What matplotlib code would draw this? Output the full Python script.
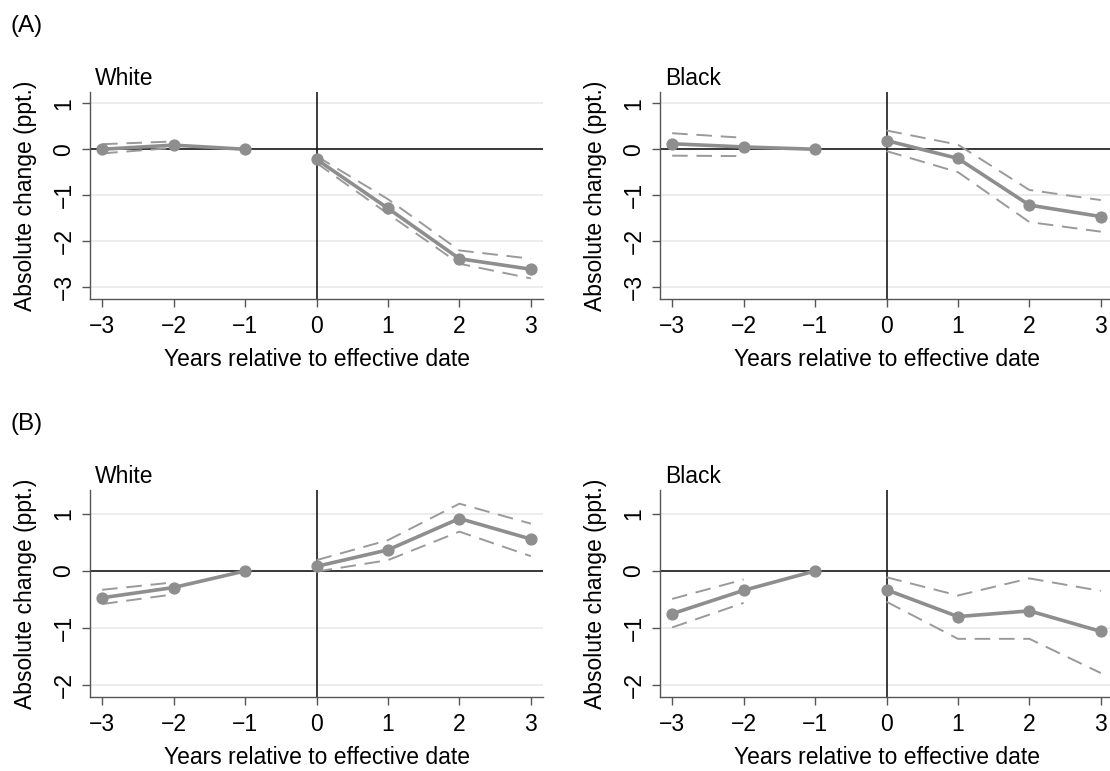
import numpy as np
import matplotlib

matplotlib.use("Agg")
import matplotlib.pyplot as plt

plt.rcParams["font.family"] = ["Liberation Sans", "DejaVu Sans"]

# ── Data ───────────────────────────────────────────────────────────
YEARS = [-3, -2, -1, 0, 1, 2, 3]

# Panel A
A_WHITE_EST = [0.0, 0.09, 0.0, -0.22, -1.29, -2.39, -2.62]
A_WHITE_LO = [-0.09, 0.03, None, -0.30, -1.41, -2.50, -2.82]
A_WHITE_HI = [0.11, 0.17, None, -0.15, -1.09, -2.21, -2.39]

A_BLACK_EST = [0.12, 0.05, 0.0, 0.19, -0.20, -1.22, -1.47]
A_BLACK_LO = [-0.14, -0.15, None, -0.04, -0.50, -1.59, -1.80]
A_BLACK_HI = [0.35, 0.25, None, 0.41, 0.10, -0.89, -1.11]

# Panel B
B_WHITE_EST = [-0.47, -0.29, 0.0, 0.08, 0.37, 0.92, 0.56]
B_WHITE_LO = [-0.58, -0.41, None, -0.01, 0.19, 0.69, 0.26]
B_WHITE_HI = [-0.33, -0.20, None, 0.19, 0.54, 1.18, 0.83]

B_BLACK_EST = [-0.75, -0.34, 0.0, -0.33, -0.80, -0.70, -1.06]
B_BLACK_LO = [-0.99, -0.56, None, -0.54, -1.19, -1.19, -1.79]
B_BLACK_HI = [-0.49, -0.15, None, -0.11, -0.43, -0.13, -0.35]

A_YTICKS = [-3, -2, -1, 0, 1]
B_YTICKS = [-2, -1, 0, 1]

XLABEL = "Years relative to effective date"
YLABEL = "Absolute change (ppt.)"

LINE_C = "#8e8e8e"
DASH_C = "#9a9a9a"
FS = 16.5


def split(years, vals):
    """Pre-period (t<0) and post-period (t>=0) pieces, dropping missing."""
    pre = [(x, v) for x, v in zip(years, vals) if x < 0 and v is not None]
    post = [(x, v) for x, v in zip(years, vals) if x >= 0 and v is not None]
    return [list(zip(*pre)), list(zip(*post))]


def panel(ax, title, est, lo, hi, ylim, yticks):
    ax.set_xlim(-3.17, 3.17)
    ax.set_ylim(*ylim)
    for t in yticks:
        ax.axhline(t, color="#ececec", lw=1.3, zorder=0)
    ax.axhline(0, color="#1a1a1a", lw=1.2, zorder=1)
    ax.axvline(0, color="#1a1a1a", lw=1.2, zorder=1)

    for band in (lo, hi):
        for xs, ys in split(YEARS, band):
            ax.plot(xs, ys, color=DASH_C, lw=1.4, dashes=(8, 4.5), zorder=2)
    for xs, ys in split(YEARS, est):
        ax.plot(xs, ys, color=LINE_C, lw=2.6, marker="o", ms=7.8,
                zorder=3, solid_capstyle="round")

    ax.set_xticks(YEARS)
    ax.set_xticklabels([str(x).replace("-", "\u2212") for x in YEARS])
    ax.set_yticks(yticks)
    ax.set_yticklabels([str(y).replace("-", "\u2212") for y in yticks],
                       rotation=90, va="center")
    ax.tick_params(labelsize=FS, length=5.5, width=1.0, color="#555555")
    ax.tick_params(axis="x", pad=6)
    ax.tick_params(axis="y", pad=5)
    for s in ("top", "right"):
        ax.spines[s].set_visible(False)
    for s in ("left", "bottom"):
        ax.spines[s].set_color("#555555")
        ax.spines[s].set_linewidth(1.0)
    ax.set_xlabel(XLABEL, fontsize=FS, labelpad=7)
    ax.set_ylabel(YLABEL, fontsize=FS, labelpad=11)
    ax.set_title(title, loc="left", fontsize=FS, pad=5, x=0.011)


fig = plt.figure(figsize=(11.1, 7.71), dpi=100)
W, H = 1110, 771
aw = 453 / W
ah = 207 / H
ax1 = fig.add_axes([90 / W, 1 - 299 / H, aw, ah])
ax2 = fig.add_axes([660 / W, 1 - 299 / H, aw, ah])
ax3 = fig.add_axes([90 / W, 1 - 697 / H, aw, ah])
ax4 = fig.add_axes([660 / W, 1 - 697 / H, aw, ah])

panel(ax1, "White", A_WHITE_EST, A_WHITE_LO, A_WHITE_HI, (-3.27, 1.25), A_YTICKS)
panel(ax2, "Black", A_BLACK_EST, A_BLACK_LO, A_BLACK_HI, (-3.27, 1.25), A_YTICKS)
panel(ax3, "White", B_WHITE_EST, B_WHITE_LO, B_WHITE_HI, (-2.21, 1.42), B_YTICKS)
panel(ax4, "Black", B_BLACK_EST, B_BLACK_LO, B_BLACK_HI, (-2.21, 1.42), B_YTICKS)

fig.text(11 / W, 1 - 26 / H, "(A)", fontsize=17.5, va="center", ha="left")
fig.text(11 / W, 1 - 424 / H, "(B)", fontsize=17.5, va="center", ha="left")

fig.savefig("out.png", dpi=100)
